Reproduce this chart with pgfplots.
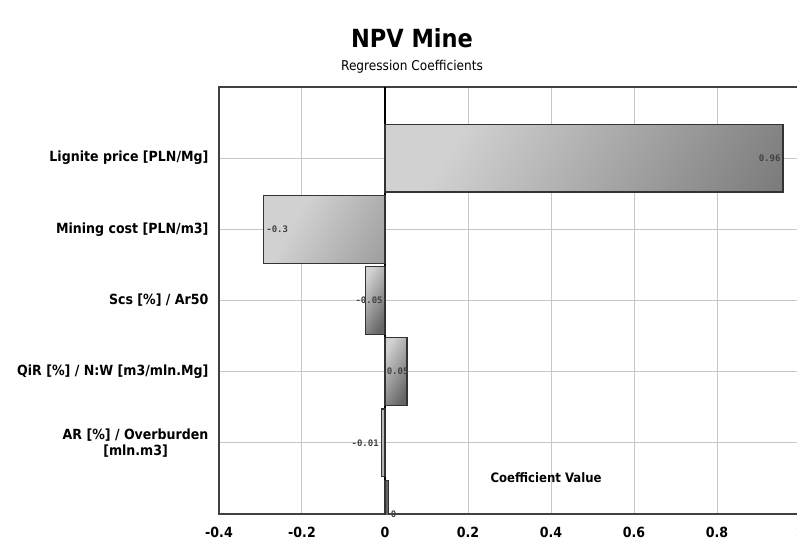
\documentclass[border=0pt]{standalone}
\usepackage{pgfplots}
\pgfplotsset{compat=1.18}
\usepackage{pgfplotstable}
\usepackage{fontspec}
\setmainfont{DejaVu Sans}[FakeStretch=0.9]
\newfontfamily\valfont{DejaVu Sans Mono}
\pgfplotstableread{
y x lab
1 0.959 0.96
5 -0.009 -0.01
}\coefE
\pgfplotstableread{
y x lab
4 0.053 0.05
}\coefQ
\pgfplotstableread{
y x lab
2 -0.292 -0.3
6 0.008 0
}\coefW
\pgfplotstableread{
y x lab
3 -0.048 -0.05
}\coefC
\pgfplotsset{mybar/.style 2 args={xbar, bar width=0.95, bar shift=0pt, draw=black!80, line width=1.1pt,
  left color=black!18, right color=black!60, shading angle=60,
  point meta=explicit symbolic,
  nodes near coords,
  every node near coord/.append style={anchor=#1, xshift=#2, font=\valfont\bfseries\fontsize{9}{10}\selectfont, text=black!75, inner sep=2pt}}}
\begin{document}
\begin{tikzpicture}
\begin{axis}[
  name=ax,
  scale only axis,
  width=581pt, height=427pt,
  xmin=-0.4, xmax=1,
  ymin=0, ymax=6,
  y dir=reverse,
  xtick={-0.4,-0.2,0,0.2,0.4,0.6,0.8,1},
  xticklabels={-0.4,-0.2,0,0.2,0.4,0.6,0.8,1},
  ytick={1,2,3,4,5},
  yticklabels={Lignite price [PLN/Mg],Mining cost [PLN/m3],Scs [\%] / Ar50,QiR [\%] / N:W [m3/mln.Mg],{AR [\%] / Overburden\\\relax[mln.m3]}},
  yticklabel style={align=center, font=\bfseries\fontsize{14}{16}\selectfont, xshift=-7pt},
  xticklabel style={font=\bfseries\fontsize{14}{16}\selectfont, yshift=-10pt},
  /pgf/number format/assume math mode=true,
  grid=major,
  major grid style={draw=black!22, line width=1pt},
  tick style={draw=none},
  axis line style={draw=black!75, line width=1.3pt},
  extra x ticks={0},
  extra x tick labels={},
  extra x tick style={grid=major, major grid style={draw=black, line width=1.3pt}},
  xlabel={Coefficient Value},
  xlabel style={at={(rel axis cs:0.563,0.084)}, anchor=center, font=\bfseries\fontsize{13}{15}\selectfont},
  clip=true,
]
\addplot[mybar={east}{0pt}] table[x=x, y=y, meta=lab] \coefE;
\addplot[mybar={east}{4pt}] table[x=x, y=y, meta=lab] \coefQ;
\addplot[mybar={west}{0pt}] table[x=x, y=y, meta=lab] \coefW;
\addplot[mybar={center}{4pt}] table[x=x, y=y, meta=lab] \coefC;
\end{axis}
\node[font=\bfseries\fontsize{25}{28}\selectfont, anchor=base] at ([shift={(193pt,466pt)}]ax.south west) {NPV Mine};
\node[font=\fontsize{13.5}{15}\selectfont, anchor=base] at ([shift={(193pt,443pt)}]ax.south west) {Regression Coefficients};
\pgfresetboundingbox
\path[use as bounding box] ([shift={(-219pt,-28pt)}]ax.south west) rectangle ([shift={(578pt,514pt)}]ax.south west);
\end{tikzpicture}
\end{document}
